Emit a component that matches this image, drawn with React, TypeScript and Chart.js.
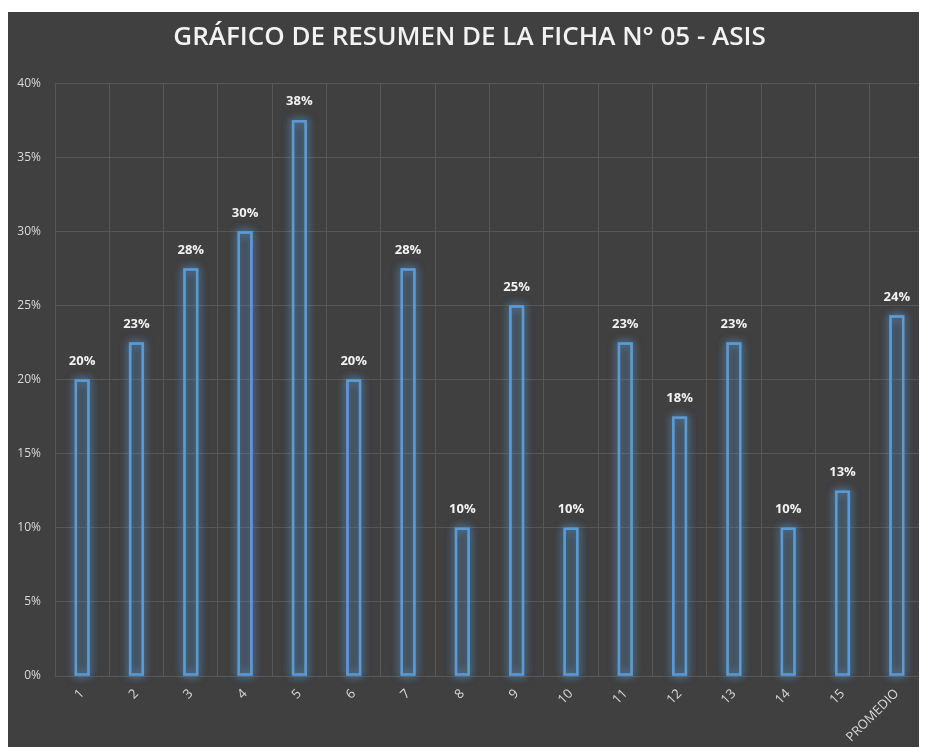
import React, { useEffect, useRef } from "react";
import { Chart, registerables } from "chart.js";

Chart.register(...registerables);

const categories = ["1", "2", "3", "4", "5", "6", "7", "8", "9", "10", "11", "12", "13", "14", "15", "PROMEDIO"];
const values = [20, 22.5, 27.5, 30, 37.5, 20, 27.5, 10, 25, 10, 22.5, 17.5, 22.5, 10, 12.5, 24.33];
const yTicks = [0, 5, 10, 15, 20, 25, 30, 35, 40];
const titleText = "GRÁFICO DE RESUMEN DE LA FICHA N° 05 - ASIS";

const BG = "#404040";
const FONT = '"Open Sans", sans-serif';

const glowPlugin = {
  id: "glow",
  beforeDatasetsDraw(chart: any) {
    const ctx = chart.ctx;
    const meta = chart.getDatasetMeta(0);
    ctx.save();
    ctx.shadowColor = "rgba(91,155,213,1)";
    ctx.shadowBlur = 9;
    ctx.strokeStyle = "rgba(91,155,213,0.7)";
    ctx.lineWidth = 2.5;
    for (let k = 0; k < 2; k++) {
      meta.data.forEach((el: any) => {
        const { x, y, base, width } = el.getProps(["x", "y", "base", "width"], true);
        ctx.strokeRect(x - width / 2 + 1, y + 1, width - 2, base - y - 2);
      });
    }
    ctx.restore();
  },
};

const labelPlugin = {
  id: "barLabels",
  afterDatasetsDraw(chart: any) {
    const ctx = chart.ctx;
    const meta = chart.getDatasetMeta(0);
    ctx.save();
    ctx.fillStyle = "#f2f2f2";
    ctx.font = `bold 13px ${FONT}`;
    ctx.textAlign = "center";
    ctx.textBaseline = "bottom";
    meta.data.forEach((el: any, i: number) => {
      ctx.fillText(Math.round(values[i]) + "%", el.x, el.y - 12);
    });
    ctx.restore();
  },
};

const bgPlugin = {
  id: "bg",
  beforeDraw(chart: any) {
    const ctx = chart.ctx;
    ctx.save();
    ctx.fillStyle = BG;
    ctx.fillRect(0, 0, chart.width, chart.height);
    ctx.restore();
  },
};

export default function App() {
  const ref = useRef<HTMLCanvasElement | null>(null);
  useEffect(() => {
    if (!ref.current) return;
    const chart = new Chart(ref.current, {
      type: "bar",
      data: {
        labels: categories,
        datasets: [
          {
            data: values,
            backgroundColor: "rgba(64,64,64,0)",
            borderColor: "#5B9BD5",
            borderWidth: 2,
            categoryPercentage: 1,
            barPercentage: 0.27,
          },
        ],
      },
      options: {
        animation: false,
        responsive: false,
        maintainAspectRatio: false,
        layout: { padding: { left: 7, right: 3, top: 0, bottom: 0 } },
        plugins: {
          legend: { display: false },
          tooltip: { enabled: false },
          title: {
            display: true,
            text: titleText,
            color: "#f2f2f2",
            font: { family: FONT, size: 26, weight: 600 },
            padding: { top: 10, bottom: 30 },
          },
        },
        scales: {
          x: {
            grid: { color: "#575757", drawTicks: false, offset: true },
            border: { display: false },
            ticks: {
              color: "#d9d9d9",
              font: { family: FONT, size: 13 },
              maxRotation: 45,
              minRotation: 45,
              padding: 10,
              autoSkip: false,
            },
            afterFit(s: any) {
              s.height = 71;
            },
          },
          y: {
            min: 0,
            max: 40,
            afterBuildTicks(s: any) {
              s.ticks = yTicks.map((v) => ({ value: v }));
            },
            grid: { color: "#575757", drawTicks: false },
            border: { display: false },
            ticks: {
              color: "#d9d9d9",
              font: { family: FONT, size: 12 },
              padding: 14,
              callback: (v: any) => v + "%",
            },
            afterFit(s: any) {
              s.width = 40;
            },
          },
        },
      },
      plugins: [bgPlugin, glowPlugin, labelPlugin],
    });
    return () => chart.destroy();
  }, []);
  return (
    <div style={{ width: 919, height: 735, marginTop: 4, background: BG }}>
      <canvas ref={ref} width={919} height={735} />
    </div>
  );
}
